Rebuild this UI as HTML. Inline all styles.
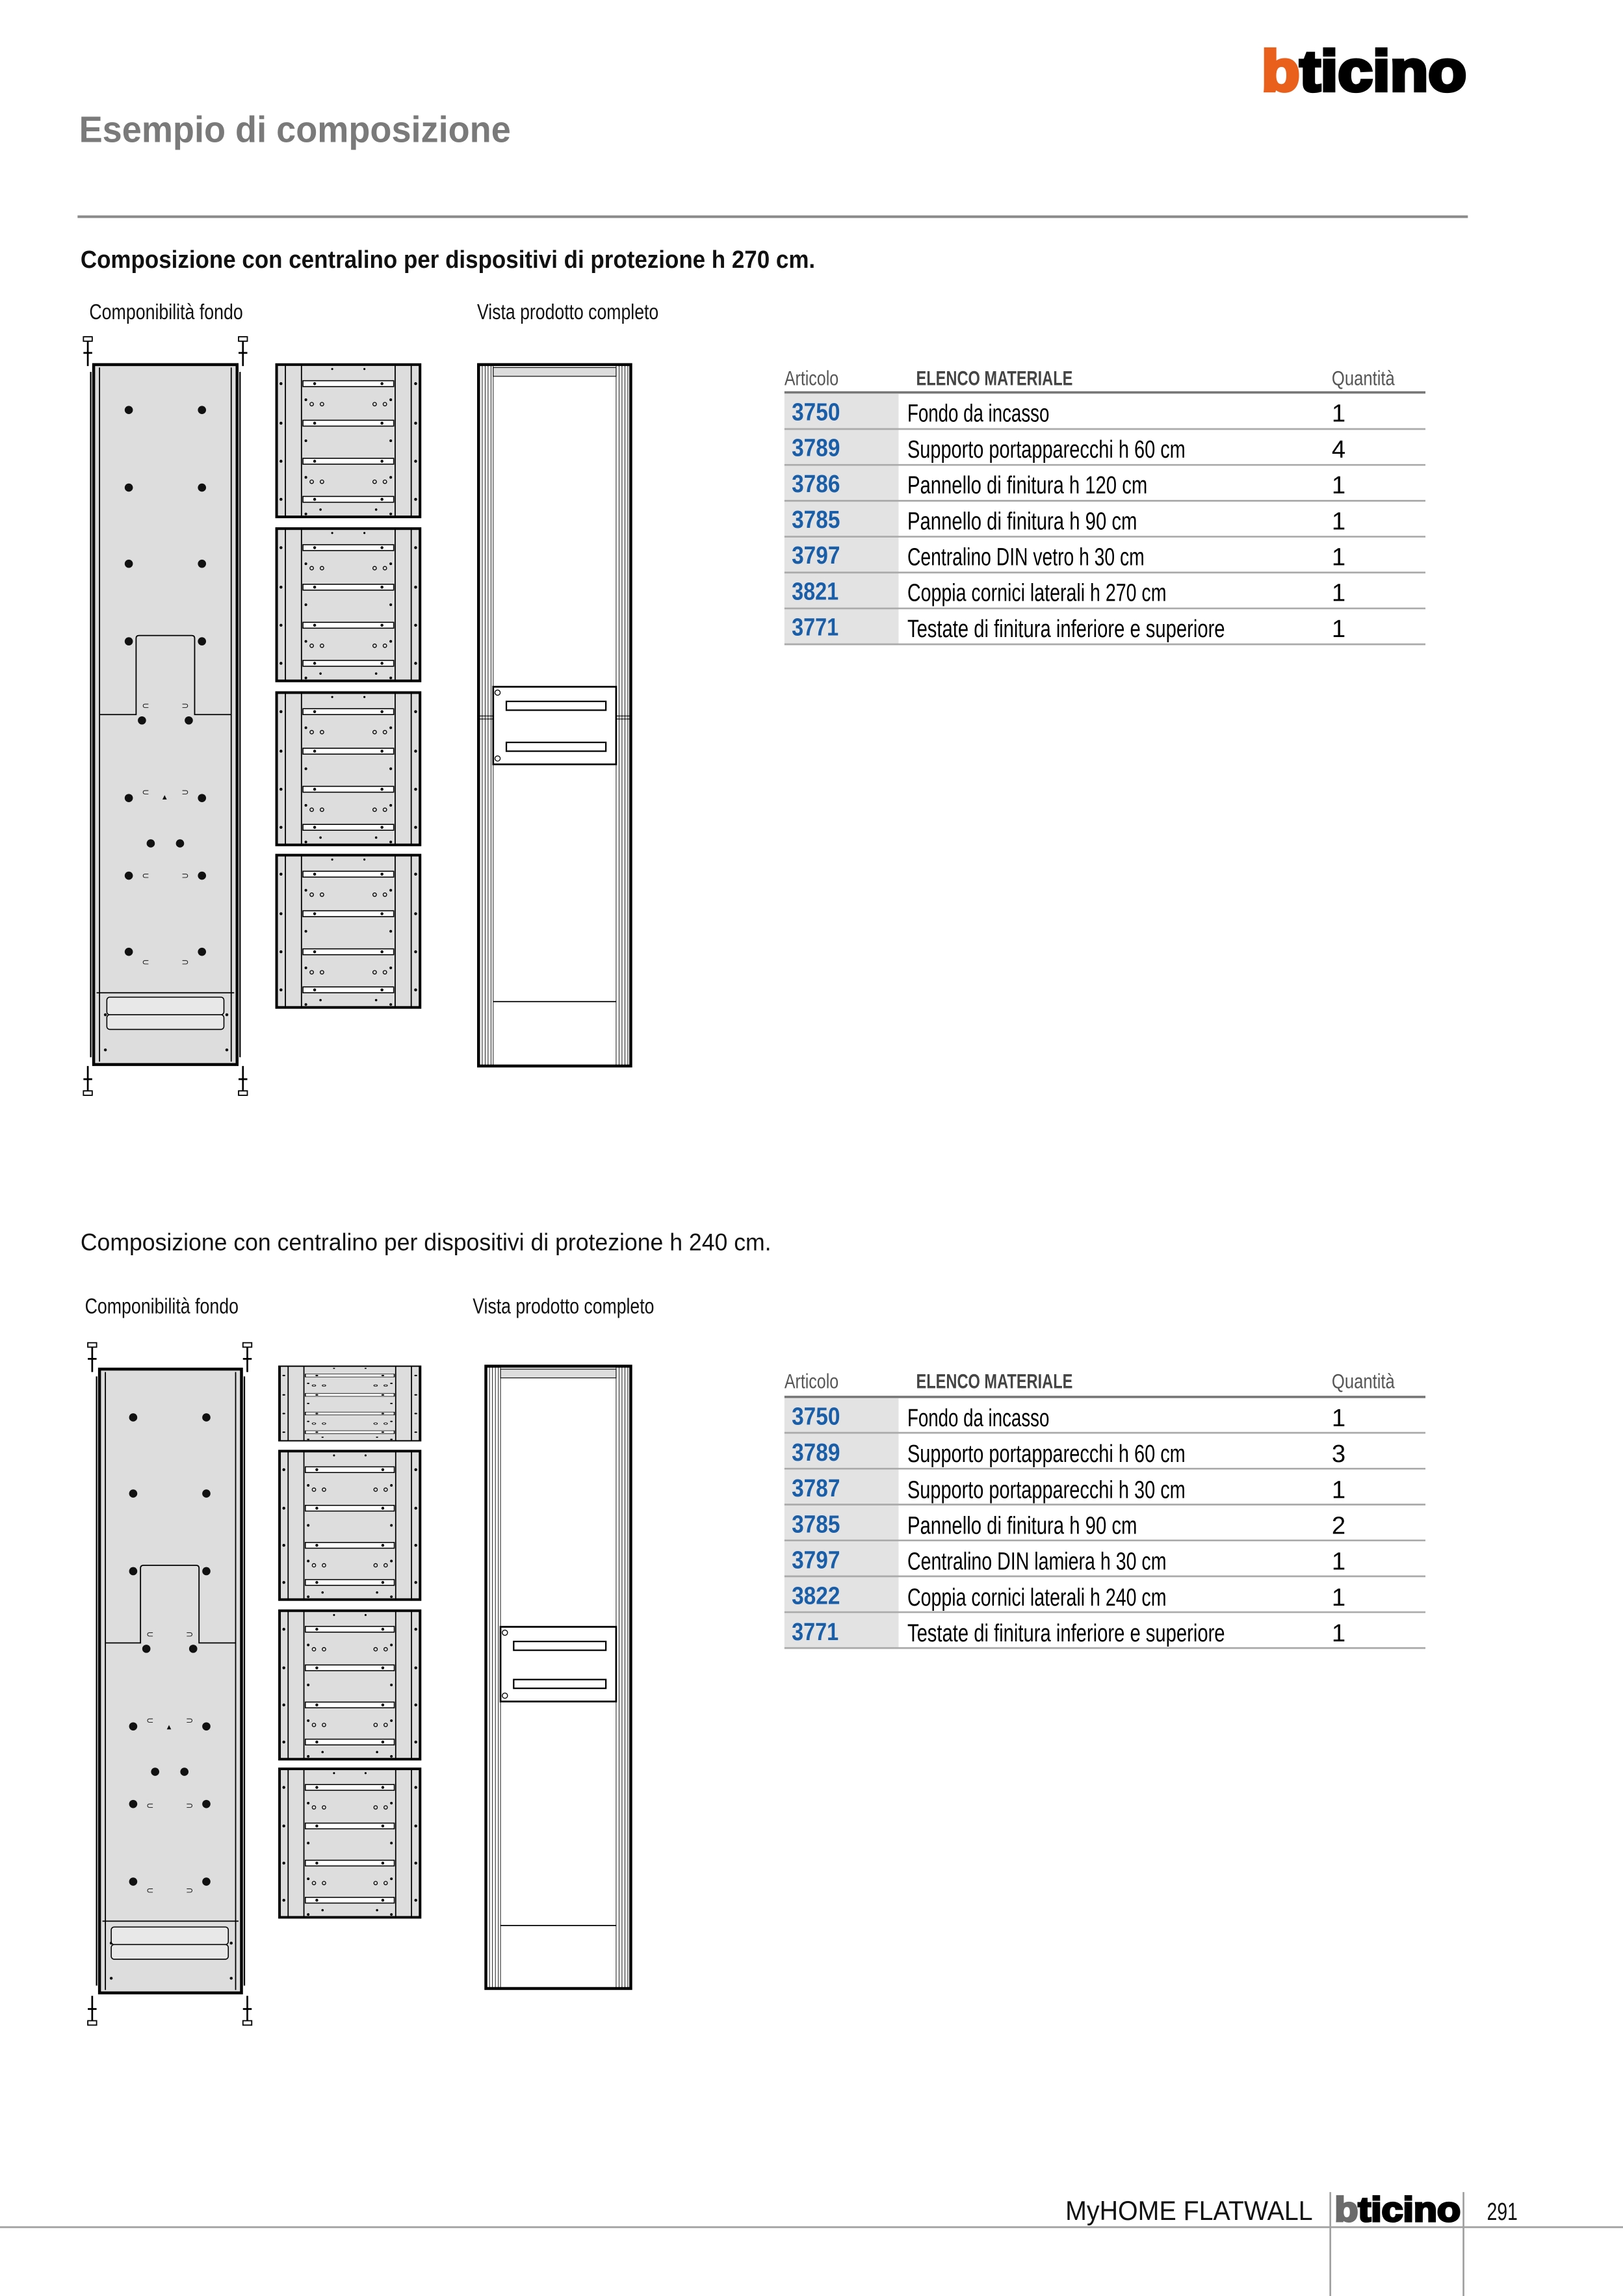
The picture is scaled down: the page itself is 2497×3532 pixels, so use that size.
<!DOCTYPE html>
<html><head><meta charset="utf-8"><style>
html,body{margin:0;padding:0;background:#fff}
svg{display:block}
text{font-family:"Liberation Sans Narrow","Liberation Sans",sans-serif}
</style></head><body>
<svg xmlns="http://www.w3.org/2000/svg" width="2497" height="3532" viewBox="0 0 1109 1568" preserveAspectRatio="none">
<defs>
<g id="s">
<rect x="0" y="0" width="98" height="104" fill="#ddd" stroke="#000" stroke-width="1.8"/>
<path d="M6 0V104M17 0V104M81 0V104M92 0V104" stroke="#000" stroke-width="0.8" fill="none"/>
<g fill="#fff" stroke="#000" stroke-width="0.7">
<rect x="18" y="11" width="62" height="4"/><rect x="18" y="38" width="62" height="4"/>
<rect x="18" y="64" width="62" height="4"/><rect x="18" y="90" width="62" height="4"/></g>
<g fill="#000">
<circle cx="3" cy="13" r="1"/><circle cx="3" cy="40" r="1"/><circle cx="3" cy="66" r="1"/><circle cx="3" cy="92" r="1"/>
<circle cx="95" cy="13" r="1"/><circle cx="95" cy="40" r="1"/><circle cx="95" cy="66" r="1"/><circle cx="95" cy="92" r="1"/>
<circle cx="26" cy="13" r="1"/><circle cx="72" cy="13" r="1"/><circle cx="26" cy="40" r="1"/><circle cx="72" cy="40" r="1"/>
<circle cx="26" cy="66" r="1"/><circle cx="72" cy="66" r="1"/><circle cx="26" cy="92" r="1"/><circle cx="72" cy="92" r="1"/>
<circle cx="20" cy="24" r="0.9"/><circle cx="78" cy="24" r="0.9"/><circle cx="20" cy="52" r="0.9"/><circle cx="78" cy="52" r="0.9"/>
<circle cx="20" cy="77" r="0.9"/><circle cx="78" cy="77" r="0.9"/><circle cx="20" cy="102" r="0.9"/><circle cx="78" cy="102" r="0.9"/>
<circle cx="38" cy="3" r="0.7"/><circle cx="60" cy="3" r="0.7"/><circle cx="30" cy="99" r="0.8"/><circle cx="68" cy="99" r="0.8"/></g>
<g fill="none" stroke="#000" stroke-width="0.6">
<circle cx="24" cy="27" r="1.2"/><circle cx="31" cy="27" r="1.2"/><circle cx="67" cy="27" r="1.2"/><circle cx="74" cy="27" r="1.2"/>
<circle cx="24" cy="80" r="1.2"/><circle cx="31" cy="80" r="1.2"/><circle cx="67" cy="80" r="1.2"/><circle cx="74" cy="80" r="1.2"/></g>
</g>
<g id="bolt"><rect x="-3" y="-2" width="6" height="3" fill="#fff" stroke="#000" stroke-width="0.8"/><path d="M0 1V18M-3 9H3" stroke="#000" stroke-width="1.2"/></g>
</defs>

<!-- header -->
<text x="862" y="62" transform="translate(862 62) scale(1 1.3) translate(-862 -62)" font-weight="bold" font-size="30" textLength="140" lengthAdjust="spacingAndGlyphs" stroke-width="1.8" style="font-family:'Liberation Sans',sans-serif"><tspan fill="#e8601c" stroke="#e8601c">b</tspan><tspan fill="#000" stroke="#000">ticino</tspan></text>
<text x="54" y="97" font-size="25" font-weight="bold" fill="#7a7a7a" textLength="295" lengthAdjust="spacingAndGlyphs" style="font-family:'Liberation Sans',sans-serif">Esempio di composizione</text>
<line x1="53" y1="148" x2="1003" y2="148" stroke="#8a8a8a" stroke-width="1.8"/>

<text x="55" y="183" font-size="17" font-weight="bold" fill="#111" textLength="502" lengthAdjust="spacingAndGlyphs" style="font-family:'Liberation Sans',sans-serif">Composizione con centralino per dispositivi di protezione h 270 cm.</text>
<text x="61" y="218" font-size="15" fill="#111" textLength="105" lengthAdjust="spacingAndGlyphs">Componibilità fondo</text>
<text x="326" y="218" font-size="15" fill="#111" textLength="124" lengthAdjust="spacingAndGlyphs">Vista prodotto completo</text>

<!-- section 1 left panel -->
<g>
<path d="M62 254V722M164 254V722" stroke="#000" stroke-width="1"/>
<rect x="64" y="249" width="98" height="478" fill="#ddd" stroke="#000" stroke-width="2"/>
<path d="M68 251V725M158 251V725" stroke="#000" stroke-width="0.8"/>
<use href="#bolt" x="60" y="232"/><use href="#bolt" x="166" y="232"/>
<use href="#bolt" transform="translate(60 746) scale(1 -1)"/><use href="#bolt" transform="translate(166 746) scale(1 -1)"/>
<path d="M68 488H93V436Q93 434 95 434H131Q133 434 133 436V488H158" stroke="#000" stroke-width="0.8" fill="none"/>
<g fill="#111">
<circle cx="88" cy="280" r="2.8"/><circle cx="138" cy="280" r="2.8"/>
<circle cx="88" cy="333" r="2.8"/><circle cx="138" cy="333" r="2.8"/>
<circle cx="88" cy="385" r="2.8"/><circle cx="138" cy="385" r="2.8"/>
<circle cx="88" cy="438" r="2.8"/><circle cx="138" cy="438" r="2.8"/>
<circle cx="97" cy="492" r="2.8"/><circle cx="129" cy="492" r="2.8"/>
<circle cx="88" cy="545" r="2.8"/><circle cx="138" cy="545" r="2.8"/>
<circle cx="103" cy="576" r="2.8"/><circle cx="123" cy="576" r="2.8"/>
<circle cx="88" cy="598" r="2.8"/><circle cx="138" cy="598" r="2.8"/>
<circle cx="88" cy="650" r="2.8"/><circle cx="138" cy="650" r="2.8"/>
<circle cx="72" cy="693" r="1"/><circle cx="155" cy="693" r="1"/><circle cx="72" cy="717" r="1"/><circle cx="155" cy="717" r="1"/></g>
<g font-size="6" fill="#111" font-family="Liberation Sans"><text x="97" y="484">⊂</text><text x="124" y="484">⊃</text><text x="97" y="543">⊂</text><text x="124" y="543">⊃</text><text x="97" y="600">⊂</text><text x="124" y="600">⊃</text><text x="97" y="659">⊂</text><text x="124" y="659">⊃</text><text x="111" y="546">▴</text></g>
<line x1="66" y1="678" x2="160" y2="678" stroke="#000" stroke-width="0.8"/>
<rect x="73" y="681" width="80" height="12" rx="2" fill="#e8e8e8" stroke="#000" stroke-width="0.7"/>
<rect x="73" y="693" width="80" height="10" rx="2" fill="#e8e8e8" stroke="#000" stroke-width="0.7"/>
</g>

<!-- section 1 supports -->
<use href="#s" x="189" y="249"/>
<use href="#s" x="189" y="361"/>
<use href="#s" x="189" y="473"/>
<use href="#s" x="189" y="584"/>

<!-- section 1 product -->
<g>
<rect x="327" y="249" width="104" height="479" fill="#fff" stroke="#000" stroke-width="2"/>
<path d="M329.5 249V728M331.5 249V728M333.5 249V728M335.5 249V728M337 249V728M421 249V728M423 249V728M425 249V728M427 249V728M429 249V728" stroke="#000" stroke-width="0.4"/>
<rect x="337" y="251" width="84" height="6" fill="#ddd" stroke="#000" stroke-width="0.5"/>
<line x1="337" y1="684" x2="421" y2="684" stroke="#000" stroke-width="0.8"/>
<path d="M327 489H337M421 489H431M327 491H337M421 491H431" stroke="#000" stroke-width="0.5"/>
<rect x="337" y="469" width="84" height="53" fill="#fff" stroke="#000" stroke-width="1.2"/>
<rect x="346" y="479" width="68" height="6" fill="#fff" stroke="#000" stroke-width="1"/>
<rect x="346" y="507" width="68" height="6" fill="#fff" stroke="#000" stroke-width="1"/>
<circle cx="340" cy="473" r="1.8" fill="none" stroke="#000" stroke-width="0.6"/>
<circle cx="340" cy="518" r="1.8" fill="none" stroke="#000" stroke-width="0.6"/>
</g>

<!-- table 1 -->
<g>
<text x="536" y="263" font-size="14" fill="#555" textLength="37" lengthAdjust="spacingAndGlyphs">Articolo</text>
<text x="626" y="263" font-size="14" font-weight="bold" fill="#444" textLength="107" lengthAdjust="spacingAndGlyphs">ELENCO MATERIALE</text>
<text x="910" y="263" font-size="14" fill="#555" textLength="43" lengthAdjust="spacingAndGlyphs">Quantità</text>
<rect x="536" y="269" width="78" height="171" fill="#e3e3e3"/>
<line x1="536" y1="268" x2="974" y2="268" stroke="#777" stroke-width="1.6"/>
<g stroke="#aaa" stroke-width="1.2"><line x1="536" y1="293" x2="974" y2="293"/><line x1="536" y1="317.5" x2="974" y2="317.5"/><line x1="536" y1="342" x2="974" y2="342"/><line x1="536" y1="366.5" x2="974" y2="366.5"/><line x1="536" y1="391" x2="974" y2="391"/><line x1="536" y1="415.5" x2="974" y2="415.5"/><line x1="536" y1="440" x2="974" y2="440"/></g>
<g font-size="17" font-weight="bold" fill="#1a5ea8">
<text x="541" y="287" textLength="33" lengthAdjust="spacingAndGlyphs">3750</text>
<text x="541" y="311.5" textLength="33" lengthAdjust="spacingAndGlyphs">3789</text>
<text x="541" y="336" textLength="33" lengthAdjust="spacingAndGlyphs">3786</text>
<text x="541" y="360.5" textLength="33" lengthAdjust="spacingAndGlyphs">3785</text>
<text x="541" y="385" textLength="33" lengthAdjust="spacingAndGlyphs">3797</text>
<text x="541" y="409.5" textLength="32" lengthAdjust="spacingAndGlyphs">3821</text>
<text x="541" y="434" textLength="32" lengthAdjust="spacingAndGlyphs">3771</text></g>
<g font-size="17" fill="#000">
<text x="620" y="288" textLength="97" lengthAdjust="spacingAndGlyphs">Fondo da incasso</text>
<text x="620" y="312.5" textLength="190" lengthAdjust="spacingAndGlyphs">Supporto portapparecchi h 60 cm</text>
<text x="620" y="337" textLength="164" lengthAdjust="spacingAndGlyphs">Pannello di finitura h 120 cm</text>
<text x="620" y="361.5" textLength="157" lengthAdjust="spacingAndGlyphs">Pannello di finitura h 90 cm</text>
<text x="620" y="386" textLength="162" lengthAdjust="spacingAndGlyphs">Centralino DIN vetro h 30 cm</text>
<text x="620" y="410.5" textLength="177" lengthAdjust="spacingAndGlyphs">Coppia cornici laterali h 270 cm</text>
<text x="620" y="435" textLength="217" lengthAdjust="spacingAndGlyphs">Testate di finitura inferiore e superiore</text>
<text x="910" y="288">1</text><text x="910" y="312.5">4</text><text x="910" y="337">1</text><text x="910" y="361.5">1</text><text x="910" y="386">1</text><text x="910" y="410.5">1</text><text x="910" y="435">1</text></g>
</g>

<!-- section 2 -->
<text x="55" y="854" font-size="16.5" fill="#111" textLength="472" lengthAdjust="spacingAndGlyphs" style="font-family:'Liberation Sans',sans-serif">Composizione con centralino per dispositivi di protezione h 240 cm.</text>
<text x="58" y="897" font-size="15" fill="#111" textLength="105" lengthAdjust="spacingAndGlyphs">Componibilità fondo</text>
<text x="323" y="897" font-size="15" fill="#111" textLength="124" lengthAdjust="spacingAndGlyphs">Vista prodotto completo</text>

<g>
<path d="M66 940V1356M167 940V1356" stroke="#000" stroke-width="1"/>
<rect x="68" y="935" width="97" height="426" fill="#ddd" stroke="#000" stroke-width="2"/>
<path d="M72 937V1359M161 937V1359" stroke="#000" stroke-width="0.8"/>
<use href="#bolt" x="63" y="919"/><use href="#bolt" x="169" y="919"/>
<use href="#bolt" transform="translate(63 1381) scale(1 -1)"/><use href="#bolt" transform="translate(169 1381) scale(1 -1)"/>
<path d="M72 1122H96V1071Q96 1069 98 1069H134Q136 1069 136 1071V1122H161" stroke="#000" stroke-width="0.8" fill="none"/>
<g fill="#111">
<circle cx="91" cy="968" r="2.8"/><circle cx="141" cy="968" r="2.8"/>
<circle cx="91" cy="1020" r="2.8"/><circle cx="141" cy="1020" r="2.8"/>
<circle cx="91" cy="1073" r="2.8"/><circle cx="141" cy="1073" r="2.8"/>
<circle cx="100" cy="1126" r="2.8"/><circle cx="132" cy="1126" r="2.8"/>
<circle cx="91" cy="1179" r="2.8"/><circle cx="141" cy="1179" r="2.8"/>
<circle cx="106" cy="1210" r="2.8"/><circle cx="126" cy="1210" r="2.8"/>
<circle cx="91" cy="1232" r="2.8"/><circle cx="141" cy="1232" r="2.8"/>
<circle cx="91" cy="1285" r="2.8"/><circle cx="141" cy="1285" r="2.8"/>
<circle cx="76" cy="1327" r="1"/><circle cx="158" cy="1327" r="1"/><circle cx="76" cy="1351" r="1"/><circle cx="158" cy="1351" r="1"/></g>
<g font-size="6" fill="#111" font-family="Liberation Sans"><text x="100" y="1118">⊂</text><text x="127" y="1118">⊃</text><text x="100" y="1177">⊂</text><text x="127" y="1177">⊃</text><text x="100" y="1235">⊂</text><text x="127" y="1235">⊃</text><text x="100" y="1293">⊂</text><text x="127" y="1293">⊃</text><text x="114" y="1181">▴</text></g>
<line x1="70" y1="1312" x2="163" y2="1312" stroke="#000" stroke-width="0.8"/>
<rect x="76" y="1316" width="80" height="12" rx="2" fill="#e8e8e8" stroke="#000" stroke-width="0.7"/>
<rect x="76" y="1328" width="80" height="10" rx="2" fill="#e8e8e8" stroke="#000" stroke-width="0.7"/>
</g>

<use href="#s" transform="translate(191 933) scale(0.98 0.49)"/>
<use href="#s" transform="translate(191 991) scale(0.98 0.975)"/>
<use href="#s" transform="translate(191 1100) scale(0.98 0.975)"/>
<use href="#s" transform="translate(191 1208) scale(0.98 0.975)"/>

<g>
<rect x="332" y="933" width="99" height="425" fill="#fff" stroke="#000" stroke-width="2"/>
<path d="M334.5 933V1358M336.5 933V1358M338.5 933V1358M340.5 933V1358M342 933V1358M421 933V1358M423 933V1358M425 933V1358M427 933V1358M429 933V1358" stroke="#000" stroke-width="0.4"/>
<rect x="342" y="935" width="79" height="6" fill="#ddd" stroke="#000" stroke-width="0.5"/>
<line x1="342" y1="1315" x2="421" y2="1315" stroke="#000" stroke-width="0.8"/>
<rect x="342" y="1111" width="79" height="51" fill="#fff" stroke="#000" stroke-width="1.2"/>
<rect x="351" y="1121" width="63" height="6" fill="#fff" stroke="#000" stroke-width="1"/>
<rect x="351" y="1147" width="63" height="6" fill="#fff" stroke="#000" stroke-width="1"/>
<circle cx="345" cy="1115" r="1.8" fill="none" stroke="#000" stroke-width="0.6"/>
<circle cx="345" cy="1158" r="1.8" fill="none" stroke="#000" stroke-width="0.6"/>
</g>

<!-- table 2 -->
<g>
<text x="536" y="948" font-size="14" fill="#555" textLength="37" lengthAdjust="spacingAndGlyphs">Articolo</text>
<text x="626" y="948" font-size="14" font-weight="bold" fill="#444" textLength="107" lengthAdjust="spacingAndGlyphs">ELENCO MATERIALE</text>
<text x="910" y="948" font-size="14" fill="#555" textLength="43" lengthAdjust="spacingAndGlyphs">Quantità</text>
<rect x="536" y="955" width="78" height="171" fill="#e3e3e3"/>
<line x1="536" y1="954" x2="974" y2="954" stroke="#777" stroke-width="1.6"/>
<g stroke="#aaa" stroke-width="1.2"><line x1="536" y1="978.5" x2="974" y2="978.5"/><line x1="536" y1="1003" x2="974" y2="1003"/><line x1="536" y1="1027.5" x2="974" y2="1027.5"/><line x1="536" y1="1052" x2="974" y2="1052"/><line x1="536" y1="1076.5" x2="974" y2="1076.5"/><line x1="536" y1="1101" x2="974" y2="1101"/><line x1="536" y1="1125.5" x2="974" y2="1125.5"/></g>
<g font-size="17" font-weight="bold" fill="#1a5ea8">
<text x="541" y="973" textLength="33" lengthAdjust="spacingAndGlyphs">3750</text>
<text x="541" y="997.5" textLength="33" lengthAdjust="spacingAndGlyphs">3789</text>
<text x="541" y="1022" textLength="33" lengthAdjust="spacingAndGlyphs">3787</text>
<text x="541" y="1046.5" textLength="33" lengthAdjust="spacingAndGlyphs">3785</text>
<text x="541" y="1071" textLength="33" lengthAdjust="spacingAndGlyphs">3797</text>
<text x="541" y="1095.5" textLength="33" lengthAdjust="spacingAndGlyphs">3822</text>
<text x="541" y="1120" textLength="32" lengthAdjust="spacingAndGlyphs">3771</text></g>
<g font-size="17" fill="#000">
<text x="620" y="974" textLength="97" lengthAdjust="spacingAndGlyphs">Fondo da incasso</text>
<text x="620" y="998.5" textLength="190" lengthAdjust="spacingAndGlyphs">Supporto portapparecchi h 60 cm</text>
<text x="620" y="1023" textLength="190" lengthAdjust="spacingAndGlyphs">Supporto portapparecchi h 30 cm</text>
<text x="620" y="1047.5" textLength="157" lengthAdjust="spacingAndGlyphs">Pannello di finitura h 90 cm</text>
<text x="620" y="1072" textLength="177" lengthAdjust="spacingAndGlyphs">Centralino DIN lamiera h 30 cm</text>
<text x="620" y="1096.5" textLength="177" lengthAdjust="spacingAndGlyphs">Coppia cornici laterali h 240 cm</text>
<text x="620" y="1121" textLength="217" lengthAdjust="spacingAndGlyphs">Testate di finitura inferiore e superiore</text>
<text x="910" y="974">1</text><text x="910" y="998.5">3</text><text x="910" y="1023">1</text><text x="910" y="1047.5">2</text><text x="910" y="1072">1</text><text x="910" y="1096.5">1</text><text x="910" y="1121">1</text></g>
</g>

<!-- footer -->
<line x1="0" y1="1521" x2="1109" y2="1521" stroke="#a0a0a0" stroke-width="1.2"/>
<line x1="909" y1="1497" x2="909" y2="1568" stroke="#a0a0a0" stroke-width="1.2"/>
<line x1="1000" y1="1497" x2="1000" y2="1568" stroke="#a0a0a0" stroke-width="1.2"/>
<text x="728" y="1516" font-size="18.5" fill="#111" textLength="169" lengthAdjust="spacingAndGlyphs" style="font-family:'Liberation Sans',sans-serif">MyHOME FLATWALL</text>
<text x="912" y="1517" transform="translate(912 1517) scale(1 1.3) translate(-912 -1517)" font-weight="bold" font-size="18" textLength="86" lengthAdjust="spacingAndGlyphs" stroke-width="1.1" style="font-family:'Liberation Sans',sans-serif"><tspan fill="#6b6b6b" stroke="#6b6b6b">b</tspan><tspan fill="#000" stroke="#000">ticino</tspan></text>
<text x="1016" y="1516" font-size="17" fill="#111" textLength="21" lengthAdjust="spacingAndGlyphs">291</text>
</svg>
</body></html>
